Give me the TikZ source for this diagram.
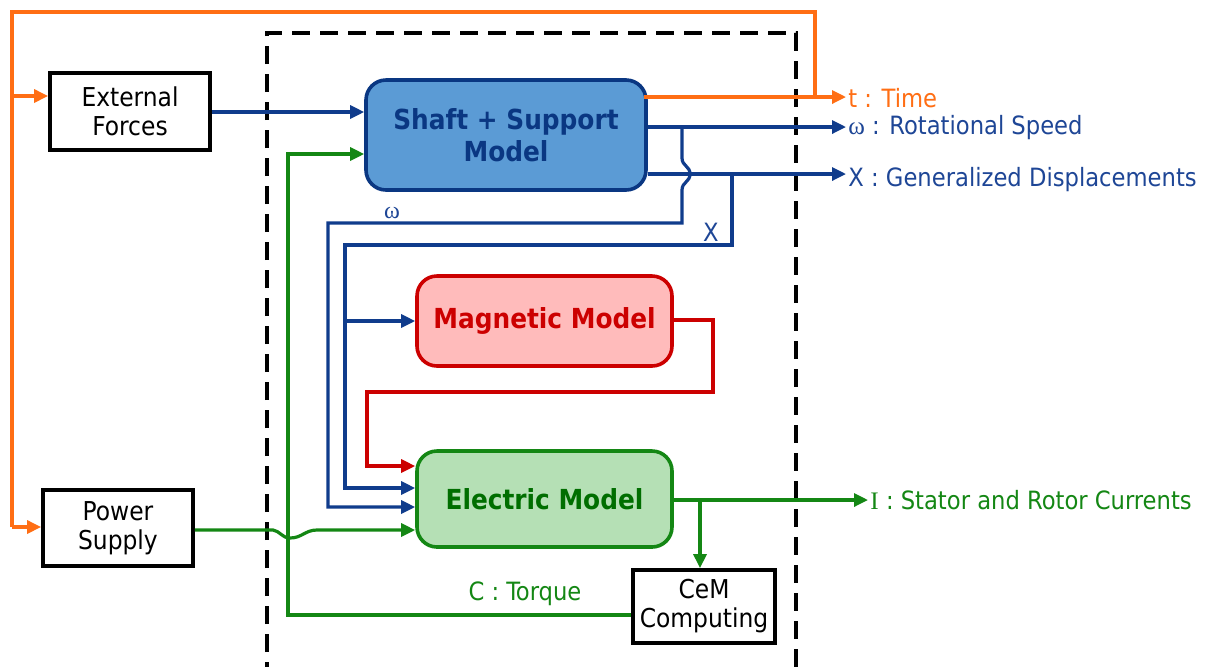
\documentclass[tikz,border=0pt]{standalone}
\usepackage{fontspec}
\setmainfont{DejaVu Sans Condensed}
\newfontfamily\serifff{Liberation Serif}
\usetikzlibrary{arrows.meta}
\definecolor{orC}{RGB}{255,110,20}
\definecolor{blL}{RGB}{16,60,140}
\definecolor{blT}{RGB}{30,70,150}
\definecolor{shF}{RGB}{91,155,213}
\definecolor{shD}{RGB}{10,55,130}
\definecolor{mgF}{RGB}{255,187,187}
\definecolor{rdC}{RGB}{204,0,0}
\definecolor{elF}{RGB}{181,224,181}
\definecolor{grC}{RGB}{20,135,20}
\definecolor{grT}{RGB}{0,110,0}
\tikzset{
  plainbox/.style={draw=black, line width=1.9pt, fill=white, align=center, inner sep=1pt, font=\fontsize{13}{14.5}\selectfont},
  modelbox/.style={rounded corners=10pt, line width=1.8pt, align=center, inner sep=1pt, font=\bfseries\fontsize{13.8}{16}\selectfont},
  conn/.style={line width=1.6pt},
  arr/.style={-{Triangle[length=7pt,width=6.5pt]}},
  lab/.style={anchor=west, inner sep=1pt, font=\fontsize{12.6}{14}\selectfont},
  dbox/.style={draw=black, line width=2pt, dash pattern=on 9pt off 5pt},
}
\begin{document}
\begin{tikzpicture}[x=0.5pt,y=-0.5pt]
\useasboundingbox (0,0) rectangle (1208,666);
% dashed frame
\draw[dbox] (267,680) -- (267,33) -- (796,33) -- (796,680);
% boxes
\node[plainbox, minimum width=80pt, minimum height=38.5pt] (ext) at (130,111.5) {External\\Forces};
\node[plainbox, minimum width=75pt, minimum height=38pt] (ps) at (118,528) {Power\\Supply};
\node[modelbox, draw=shD, fill=shF, text=shD, minimum width=140pt, minimum height=55pt] (shaft) at (506,135) {Shaft + Support\\Model};
\node[modelbox, draw=rdC, fill=mgF, text=rdC, minimum width=127.5pt, minimum height=45pt] (mag) at (544.5,321) {Magnetic Model};
\node[modelbox, draw=grC, fill=elF, text=grT, minimum width=127.5pt, minimum height=48pt] (elec) at (544.5,499) {Electric Model};
\node[plainbox, minimum width=71pt, minimum height=36.5pt] (cem) at (704,606.5) {CeM\\Computing};
% output labels
\node[lab, text=orC] (tlab) at (846,98) {t : Time};
\node[lab, text=blT] (wlab) at (846,128) {{\serifff ω} : Rotational Speed};
\node[lab, text=blT] (xlab) at (846,180) {X : Generalized Displacements};
\node[lab, text=grC] (ilab) at (868,500) {{\serifff I} : Stator and Rotor Currents};
% orange
\draw[conn, orC] (815,97) -- (815,12) -- (12,12) -- (12,527);
\draw[conn, orC, arr] (12,96) -- (ext.west |- 12,96);
\draw[conn, orC, arr] (12,527) -- (ps.west |- 12,527);
\draw[conn, orC, arr] (644,97) -- (tlab.west |- 644,97);
% external forces
\draw[conn, blL, arr] (ext.east |- 0,112) -- (shaft.west |- 0,112);
% omega and X outputs
\draw[conn, blL, arr] (shaft.east |- 0,127) -- (wlab.west |- 0,127);
\draw[conn, blL, arr] (shaft.east |- 0,174) -- (xlab.west |- 0,174);
% omega feedback
\draw[conn, blL, arr] (682,127) -- (682,158) .. controls (682,166) and (690,166) .. (690,174) .. controls (690,182) and (682,182) .. (682,190) -- (682,223) -- (328,223) -- (328,507) -- (elec.west |- 0,507);
\node[text=blT, font=\serifff\fontsize{12}{12}\selectfont, inner sep=0pt] (wsmall) at (392,213) {ω};
% X feedback
\draw[conn, blL, arr] (732,174) -- (732,245) -- (345,245) -- (345,488) -- (elec.west |- 0,488);
\draw[conn, blL, arr] (345,321) -- (mag.west |- 0,321);
\node[text=blT, font=\fontsize{12.6}{14}\selectfont, inner sep=0pt] (xsmall) at (711,232) {X};
% red
\draw[conn, rdC, arr] (mag.east |- 0,320) -- (713,320) -- (713,392) -- (367,392) -- (367,466) -- (elec.west |- 0,466);
% green power
\draw[conn, grC, arr] (ps.east |- 0,530) -- (273,530) .. controls (280,531) and (282,538) .. (290,538) .. controls (302,538) and (305,530) .. (317,530) -- (elec.west |- 0,530);
% torque
\draw[conn, grC, arr] (cem.west |- 0,615) -- (288,615) -- (288,154) -- (shaft.west |- 0,154);
\node[text=grC, font=\fontsize{12.6}{14}\selectfont, inner sep=0pt] (clab) at (525,594) {C : Torque};
% currents
\draw[conn, grC, arr] (elec.east |- 0,500) -- (ilab.west |- 0,500);
\draw[conn, grC, arr] (700,500) -- (cem.north -| 700,500);
\end{tikzpicture}
\end{document}
